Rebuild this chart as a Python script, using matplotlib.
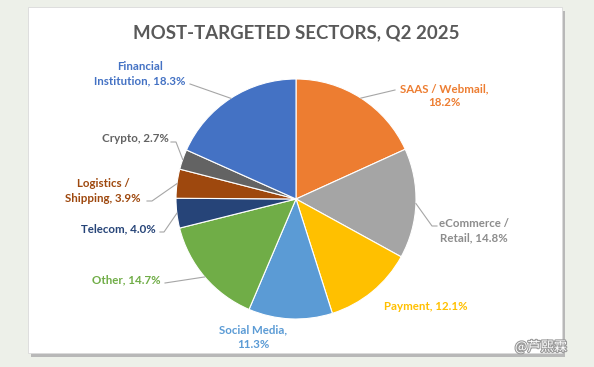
import matplotlib
matplotlib.use('Agg')
import matplotlib.pyplot as plt
import matplotlib.patheffects as pe
import numpy as np
from matplotlib.patches import Rectangle

W, H = 594, 367

# ---- data ----
sectors = ['SAAS / Webmail', 'eCommerce /\nRetail', 'Payment', 'Social Media', 'Other',
           'Telecom', 'Logistics /\nShipping', 'Crypto', 'Financial\nInstitution']
shares = [18.2, 14.8, 12.1, 11.3, 14.7, 4.0, 3.9, 2.7, 18.3]
separators = [',\n', ', ', ', ', ',\n', ', ', ', ', ', ', ', ', ', ']
title = 'MOST-TARGETED SECTORS, Q2 2025'
watermark = '@芦熙霖'

colors = ['#ED7D31', '#A5A5A5', '#FFC000', '#5B9BD5', '#70AD47',
          '#264478', '#9E480E', '#636363', '#4472C4']
text_colors = ['#ED7D31', '#8C8C8C', '#FFC000', '#5B9BD5', '#70AD47',
               '#264478', '#9E480E', '#636363', '#4472C4']

# layout (pixel coords, y measured from top)
CX, CY, R = 296, 199, 120
label_pos = [(444, 95.5), (474, 231), (426, 307), (253, 337), (126, 280),
             (118.5, 229), (103, 191), (135, 139), (140, 74)]
leader_start = [(395, 90), (437, 226), None, None, (165, 283),
                (160, 232), (147, 201), (171, 142), (190, 84)]
leader_elbow = [None, (432, 226), None, None, None,
                (164, 232), (152, 201), (176, 142), None]

FONT = 'Lato'

fig = plt.figure(figsize=(W / 100, H / 100), dpi=100)
fig.patch.set_facecolor('#EDF0E9')
ax = fig.add_axes([0, 0, 1, 1])

def Y(y):
    return H - y

# card with shadow
ax.add_patch(Rectangle((31, Y(357)), 534, 346, facecolor='#B8B8B8', edgecolor='none', zorder=0))
ax.add_patch(Rectangle((28, Y(353)), 534, 346, facecolor='white', edgecolor='#DADADA',
                       linewidth=0.6, zorder=1))

wedges, _ = ax.pie(shares, colors=colors, startangle=90, counterclock=False,
                   center=(CX, Y(CY)), radius=R,
                   wedgeprops=dict(edgecolor='white', linewidth=0.8, zorder=3))
for w in wedges:
    w.set_zorder(3)

ax.set_xlim(0, W)
ax.set_ylim(0, H)
ax.set_aspect('equal')
ax.axis('off')

cum = np.cumsum([0] + shares[:-1])
for i, (name, v) in enumerate(zip(sectors, shares)):
    mid = (cum[i] + v / 2) / sum(shares)
    ang = np.deg2rad(90 - 360 * mid)
    ax_, ay_ = CX + R * np.cos(ang), CY - R * np.sin(ang)
    txt = f'{name}{separators[i]}{v:.1f}%'
    lx, ly = label_pos[i]
    ax.text(lx, Y(ly), txt, ha='center', va='center', fontsize=8.3, fontweight='bold',
            color=text_colors[i], family=FONT, linespacing=1.35, zorder=5)
    if leader_start[i] is not None:
        pts = [leader_start[i]]
        if leader_elbow[i] is not None:
            pts.append(leader_elbow[i])
        pts.append((ax_, ay_))
        xs = [p[0] for p in pts]
        ys = [Y(p[1]) for p in pts]
        ax.plot(xs, ys, color='#A6A6A6', linewidth=0.8, zorder=4)

ax.text(296, Y(33), title, ha='center', va='center', fontsize=13.4, fontweight='bold',
        color='#595959', family=FONT, zorder=5)

ax.text(541, Y(347), watermark, ha='center', va='center', fontsize=9.5,
        color='white', family=['Noto Sans CJK SC', 'DejaVu Sans'], zorder=6,
        path_effects=[pe.withStroke(linewidth=1.6, foreground='#9A9A9A')])

fig.savefig('out.png', dpi=100, facecolor=fig.get_facecolor())
